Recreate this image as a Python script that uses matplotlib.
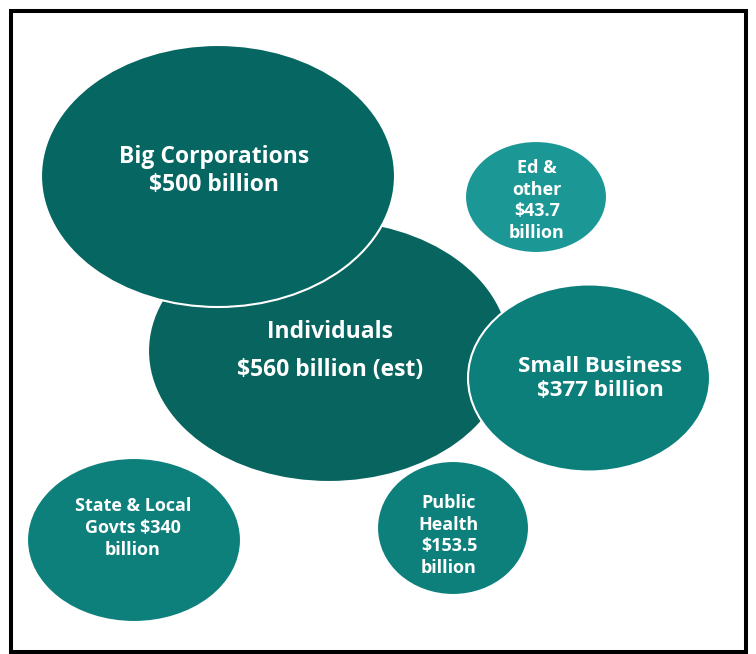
import matplotlib.pyplot as plt
from matplotlib.patches import Ellipse, Rectangle

plt.rcParams['font.family'] = ['Open Sans', 'DejaVu Sans']

# Who got the money
groups = ['Individuals', 'Big Corporations', 'Small Business', 'Ed & other',
          'State & Local Govts', 'Public Health']
amounts = [560, 500, 377, 43.7, 340, 153.5]
labels = [
    'Individuals\n$560 billion (est)',
    'Big Corporations\n$500 billion',
    'Small Business\n$377 billion',
    'Ed &\nother\n$43.7\nbillion',
    'State & Local\nGovts $340\nbillion',
    'Public\nHealth\n$153.5\nbillion',
]

# Bubble layout in pixel units: centre x, centre y, width, height
layout = [
    (329, 351, 362, 262),
    (218, 176, 354, 262),
    (589, 378, 242, 187),
    (536, 197, 142, 112),
    (134, 540, 214, 164),
    (453, 528, 152, 134),
]
colors = ['#08645f', '#066662', '#0c7f7b', '#1b9896', '#0d807c', '#0d807c']
text_pos = [(330, 351), (214, 171), (600, 378.5), (537, 200.5), (133, 528), (449, 535.5)]
font_sizes = [16.5, 16.5, 16, 13, 13, 13]
line_gaps = [1.77, 1.25, 1.2, 1.27, 1.31, 1.24]

fig = plt.figure(figsize=(7.56, 6.54), dpi=100)
ax = fig.add_axes([0, 0, 1, 1])
ax.set_xlim(0, 756)
ax.set_ylim(654, 0)
ax.axis('off')

for i, (cx, cy, w, h) in enumerate(layout):
    ax.add_patch(Ellipse((cx, cy), w, h, facecolor=colors[i],
                         edgecolor='white', linewidth=1.5, zorder=2 + i))
    tx, ty = text_pos[i]
    ax.text(tx, ty, labels[i], color='white', fontsize=font_sizes[i],
            fontweight='bold', ha='center', va='center', multialignment='center',
            linespacing=line_gaps[i], zorder=20)

# Black frame around the whole graphic
ax.add_patch(Rectangle((11, 11), 735, 641, fill=False, edgecolor='black',
                       linewidth=2.9, zorder=30))

fig.savefig('out.png', dpi=100)
